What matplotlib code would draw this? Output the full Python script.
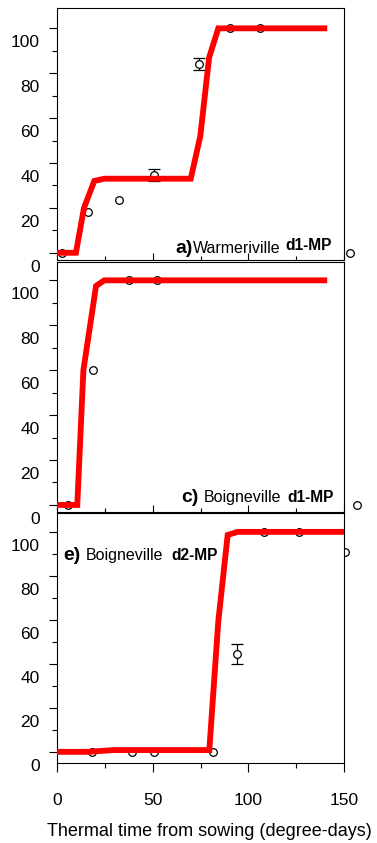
import matplotlib
matplotlib.use("Agg")
import matplotlib.pyplot as plt
from matplotlib.transforms import ScaledTranslation, Bbox, TransformedBbox

plt.rcParams['font.family'] = ['Liberation Sans', 'DejaVu Sans']

# panel a) Warmeriville d1-MP
a_line_x = [0, 9.9, 14.1, 19.5, 24.7, 69.9, 74.9, 79.5, 84.3, 139.7]
a_line_y = [0, 0, 20, 32, 33, 33, 52, 87, 100, 100]
a_obs_x = [2.6, 16.4, 32.4, 50.7, 74.3, 90.4, 106.0]
a_obs_y = [0, 18, 23.5, 34.6, 84.1, 100, 100]
a_obs_err = [0, 0, 0, 2.7, 2.8, 0, 0]
a_out = (153.2, 0)

# panel c) Boigneville d1-MP
c_line_x = [0, 10.6, 13.8, 20.4, 24.7, 139.7]
c_line_y = [0, 0, 60, 97.5, 100, 100]
c_obs_x = [5.7, 18.6, 37.8, 52.3]
c_obs_y = [0, 60, 100, 100]
c_obs_err = [0, 0, 0, 0]
c_out = (156.6, 0)

# panel e) Boigneville d2-MP
e_line_x = [0, 16, 29.4, 79.6, 84.3, 89.2, 94.4, 150]
e_line_y = [0.2, 0.2, 1, 1, 59.4, 98.6, 100, 100]
e_obs_x = [18.5, 39.0, 50.7, 81.4, 94.1, 108.4, 126.3]
e_obs_y = [0, 0, 0, 0, 44.7, 100, 100]
e_obs_err = [0, 0, 0, 0, 4.5, 0, 0]
e_out = (150.4, 91)

yticks = [0, 20, 40, 60, 80, 100]
xticks = [0, 50, 100, 150]

fig = plt.figure(figsize=(3.77, 8.43), dpi=100)
L, W = 57 / 377, 287 / 377
ax_a = fig.add_axes([L, 1 - 259.5 / 843, W, 251.8 / 843])
ax_c = fig.add_axes([L, 1 - 511.7 / 843, W, 250.0 / 843])
ax_e = fig.add_axes([L, 1 - 763.3 / 843, W, 250.6 / 843])

panels = [
    (ax_a, a_line_x, a_line_y, a_obs_x, a_obs_y, a_obs_err, (-3, 109.2)),
    (ax_c, c_line_x, c_line_y, c_obs_x, c_obs_y, c_obs_err, (-3, 108.3)),
    (ax_e, e_line_x, e_line_y, e_obs_x, e_obs_y, e_obs_err, (-5, 108.7)),
]

mk = dict(marker='o', ms=5.5, mfc='white', mec='black', mew=0.9, ls='none')

for ax, lx, ly, ox, oy, oe, ylim in panels:
    ex = [x for x, e in zip(ox, oe) if e > 0]
    ey = [y for y, e in zip(oy, oe) if e > 0]
    ee = [e for e in oe if e > 0]
    if ee:
        ax.errorbar(ex, ey, yerr=ee, fmt='none', ecolor='black', elinewidth=0.9,
                    capsize=4, capthick=0.9, zorder=2)
    ax.plot(ox, oy, zorder=2, **mk)
    ax.plot(lx, ly, color='#ff0000', lw=4.2, solid_joinstyle='miter', zorder=3)
    ax.set_xlim(0, 150)
    ax.set_ylim(*ylim)
    ax.set_yticks(yticks)
    ax.set_yticks([10, 30, 50, 70, 90], minor=True)
    ax.set_xticks(xticks)
    ax.set_xticks([25, 75, 125], minor=True)
    ax.tick_params(axis='y', which='major', direction='out', length=5.5,
                   width=0.8, labelsize=12.5, pad=7)
    ax.tick_params(axis='y', which='minor', direction='out', length=3.8, width=0.8)
    for s in ax.spines.values():
        s.set_linewidth(0.8)
    off = ScaledTranslation(0, -9.4 / 72, fig.dpi_scale_trans)
    for lab in ax.get_yticklabels():
        lab.set_transform(lab.get_transform() + off)

for ax in (ax_a, ax_c):
    ax.tick_params(axis='x', which='major', direction='in', length=5, width=0.8,
                   labelbottom=False)
    ax.tick_params(axis='x', which='minor', direction='in', length=3, width=0.8)

ax_e.tick_params(axis='x', which='major', direction='out', length=6.5, width=0.8,
                 labelsize=12.5, pad=15)
ax_e.tick_params(axis='x', which='minor', direction='out', length=3.8, width=0.8)

# stray observations beyond the axis
ax_a.plot(*a_out, clip_on=False, **mk)
ax_c.plot(*c_out, clip_on=False, **mk)
half, = ax_e.plot(*e_out, **mk)
half.set_clip_box(TransformedBbox(Bbox([[1.0, 0], [1.2, 1]]), ax_e.transAxes))

# panel labels
def label(ax, letter, place, code, xs, ys):
    ax.text(xs[0], ys[0], letter, transform=ax.transAxes, fontsize=14,
            fontweight='bold', va='baseline', ha='left')
    ax.text(xs[1], ys[0], place, transform=ax.transAxes, fontsize=11.5,
            va='baseline', ha='left')
    ax.text(xs[2], ys[1], code, transform=ax.transAxes, fontsize=11.2,
            fontweight='bold', va='baseline', ha='left')

label(ax_a, 'a)', 'Warmeriville', 'd1-MP', (0.411, 0.473, 0.794), (0.026, 0.038))
label(ax_c, 'c)', 'Boigneville', 'd1-MP', (0.4345, 0.512, 0.8024), (0.040, 0.040))
label(ax_e, 'e)', 'Boigneville', 'd2-MP', (0.022, 0.101, 0.397), (0.811, 0.811))

fig.text(209.5 / 377, 1 - 831.7 / 843, 'Thermal time from sowing (degree-days)',
         fontsize=13, ha='center', va='center')

fig.savefig('out.png', dpi=100)
